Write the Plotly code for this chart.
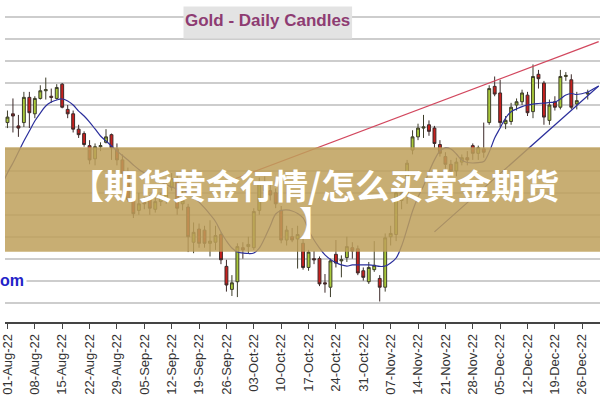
import numpy as np
import pandas as pd
import plotly.graph_objects as go

# ---- data ----
holidays = ["2022-12-26"]
dates = [d.strftime("%Y-%m-%d") for d in pd.bdate_range("2022-07-29", "2022-12-27") if d.strftime("%Y-%m-%d") not in holidays]

opens = [1773,1784,1792,1781,1784,1807,1792,1806,1813,1808,1806,1819,1796,1792,1778,1774,1763,1751,1762,1766,1773,
         1760,1750,1738,1714,1704,1712,1714,1705,1712,1713,1725,1733,1710,1707,1675,1687,1686,1674,1675,1682,
         1653,1632,1639,1670,1671,1670,1704,1730,1722,1720,1704,1677,1680,1678,1674,1652,1660,1660,1638,1634,
         1664,1658,1661,1670,1669,1649,1639,1650,1642,1634,1680,1682,1713,1718,1759,1771,1779,1782,1779,1764,
         1753,1746,1740,1748,1752,1763,1756,1760,1784,1817,1811,1783,1785,1800,1803,1809,1794,1828,1820,1786,
         1803,1798,1826,1823,1801,1810]
highs = [1785,1795,1806,1791,1812,1812,1808,1818,1825,1815,1819,1820,1800,1795,1782,1776,1768,1765,1766,1778,1774,
         1765,1755,1743,1716,1720,1716,1718,1716,1720,1730,1738,1736,1722,1710,1693,1692,1690,1695,1690,1684,
         1659,1645,1674,1675,1680,1706,1734,1735,1727,1724,1708,1690,1688,1690,1678,1668,1667,1662,1646,1660,
         1677,1663,1680,1675,1672,1652,1657,1676,1645,1683,1690,1722,1722,1750,1777,1783,1791,1786,1781,1768,
         1757,1750,1752,1755,1758,1765,1763,1784,1818,1826,1823,1790,1802,1806,1814,1812,1837,1832,1822,1805,
         1808,1832,1830,1828,1812,1814]
lows = [1768,1779,1775,1771,1780,1779,1788,1805,1805,1802,1805,1797,1788,1775,1770,1762,1746,1745,1758,1765,1750,
        1745,1735,1712,1697,1700,1705,1700,1702,1708,1710,1722,1700,1704,1666,1665,1670,1670,1662,1668,1655,
        1630,1626,1625,1660,1665,1668,1700,1716,1713,1706,1674,1672,1675,1651,1650,1649,1655,1635,1629,1625,
        1652,1643,1657,1660,1645,1640,1637,1648,1621,1630,1672,1676,1705,1710,1755,1768,1770,1772,1761,1753,
        1742,1735,1735,1745,1745,1750,1750,1752,1782,1808,1780,1778,1782,1795,1800,1790,1788,1815,1782,1782,
        1795,1796,1822,1796,1796,1805]
closes = [1782,1789,1790,1779,1807,1793,1806,1813,1814,1807,1816,1798,1792,1778,1773,1764,1750,1762,1763,1771,1761,
          1750,1738,1714,1701,1710,1710,1706,1712,1716,1725,1733,1706,1713,1680,1684,1674,1674,1676,1681,1659,
          1636,1638,1671,1668,1673,1703,1730,1722,1718,1710,1677,1686,1677,1682,1652,1666,1659,1637,1637,1658,
          1656,1659,1671,1667,1647,1643,1652,1654,1634,1679,1683,1720,1720,1747,1771,1779,1780,1776,1765,1756,
          1746,1740,1748,1752,1750,1756,1761,1757,1815,1810,1784,1786,1798,1803,1811,1793,1826,1824,1789,1800,
          1798,1826,1827,1798,1804,1811]

ma_dates = dates + ["2022-12-28", "2022-12-29"]
ma_values = [1727.1,1738.1,1747.2,1757.2,1767.2,1776.3,1785.4,1792.7,1799.1,1802.7,1804.6,1805.5,1803.7,1800.0,1794.5,
             1790.0,1784.5,1778.2,1771.8,1767.2,1762.7,1758.1,1754.0,1749.9,1745.4,1741.3,1738.1,1735.3,1732.6,
             1729.9,1727.6,1725.3,1723.5,1722.1,1720.3,1716.2,1711.6,1706.2,1700.3,1693.9,1684.3,1676.1,1669.7,
             1666.1,1665.2,1664.7,1665.2,1669.7,1678.9,1689.8,1700.7,1703.9,1704.4,1703.4,1701.2,1697.1,1686.1,
             1677.0,1669.7,1663.4,1659.3,1656.5,1654.3,1653.3,1654.3,1654.3,1654.3,1654.3,1653.8,1652.9,1653.3,
             1656.1,1660.6,1671.6,1687.1,1703.4,1716.2,1726.2,1739.0,1750.0,1758.1,1760.9,1759.9,1755.4,1749.9,
             1747.6,1747.2,1747.6,1748.5,1757.2,1769.9,1779.1,1788.2,1793.9,1796.4,1798.6,1800.0,1800.9,1801.4,
             1801.8,1802.3,1802.7,1805.5,1809.1,1810.5,1809.6,1811.9,1814.6,1817.3]

red_line_dates = ["2022-09-27", "2022-12-29"]
red_line_values = [1731.7, 1857.7]
blue_line_dates = ["2022-11-17", "2022-12-29"]
blue_line_values = [1684.4, 1817.3]

tick_dates = [d.strftime("%Y-%m-%d") for d in pd.date_range("2022-08-01", "2022-12-26", freq="W-MON")]
tick_text = [pd.Timestamp(d).strftime("%d-%b-%y") for d in tick_dates]
grid_levels = list(range(1620, 1900, 20))

# ---- trading-day index axis ----
def tindex(ds):
    return np.busday_count("2022-08-01", np.array(ds, dtype="datetime64[D]")).astype(float)

fig = go.Figure()
fig.add_trace(go.Candlestick(
    x=tindex(dates), open=opens, high=highs, low=lows, close=closes,
    increasing=dict(fillcolor="#a9c93a", line=dict(color="#3d3d2a", width=1)),
    decreasing=dict(fillcolor="#c8201e", line=dict(color="#3d2a2a", width=1)),
    whiskerwidth=0, showlegend=False, hoverinfo="skip"))
fig.add_trace(go.Scatter(x=tindex(ma_dates), y=ma_values, mode="lines",
                         line=dict(color="#2b2f9c", width=1.2, shape="spline"), showlegend=False))
fig.add_trace(go.Scatter(x=tindex(red_line_dates), y=red_line_values, mode="lines",
                         line=dict(color="#d2475e", width=1.3), showlegend=False))
fig.add_trace(go.Scatter(x=tindex(blue_line_dates), y=blue_line_values, mode="lines",
                         line=dict(color="#2b2f9c", width=1.2), showlegend=False))

H_PLOT = 322.0
def py(p):
    return 1 - p / H_PLOT

shapes = [
    dict(type="rect", xref="paper", yref="paper", x0=180/600, x1=350/600, y0=py(38.5), y1=py(6.5),
         fillcolor="#e3e3e3", line=dict(width=0), layer="above"),
    dict(type="rect", xref="paper", yref="paper", x0=0, x1=1, y0=py(251.7), y1=py(147.3),
         fillcolor="rgba(190,160,90,0.85)", line=dict(width=0), layer="above"),
]
annotations = [
    dict(text="<b>Gold - Daily Candles</b>", xref="paper", yref="paper", x=265/600, y=py(21),
         xanchor="center", yanchor="middle",
         showarrow=False, font=dict(family="Liberation Sans, Arial", size=17, color="#8e3c72")),
    dict(text="<b>om</b>", xref="paper", yref="y", x=0, xanchor="left", y=1640, yanchor="middle",
         xshift=-8, showarrow=False, bgcolor="white", borderpad=2,
         font=dict(family="Liberation Sans, Arial", size=16, color="#2323c8")),
    dict(text="<b>【期货黄金行情/怎么买黄金期货</b>", xref="paper", yref="paper", x=312/600, y=py(184),
         showarrow=False, xanchor="center", yanchor="middle",
         font=dict(family="Noto Sans CJK SC", size=34, color="white")),
    dict(text="<b>】</b>", xref="paper", yref="paper", x=294/600, y=py(221),
         showarrow=False, xanchor="left", yanchor="middle",
         font=dict(family="Noto Sans CJK SC", size=34, color="white")),
]

fig.update_layout(
    width=600, height=400, margin=dict(l=0, r=0, t=0, b=78),
    paper_bgcolor="white", plot_bgcolor="white",
    shapes=shapes, annotations=annotations, boxgap=0.25,
    xaxis=dict(range=[-0.45, 108.24], tickvals=tindex(tick_dates), ticktext=tick_text,
               tickangle=-90, ticks="outside", ticklen=5, tickcolor="#444", tickwidth=1,
               ticklabeloverflow="allow",
               showline=True, linecolor="#444", linewidth=1.5, showgrid=False, zeroline=False,
               rangeslider=dict(visible=False),
               tickfont=dict(family="Liberation Sans, Arial", size=13, color="#333")),
    yaxis=dict(range=[1602.3, 1895.7], tickvals=grid_levels, showticklabels=False,
               showgrid=True, gridcolor="#cdcdcd", gridwidth=1.5, zeroline=False, showline=False, ticks=""),
)
fig.write_html("out.html")
